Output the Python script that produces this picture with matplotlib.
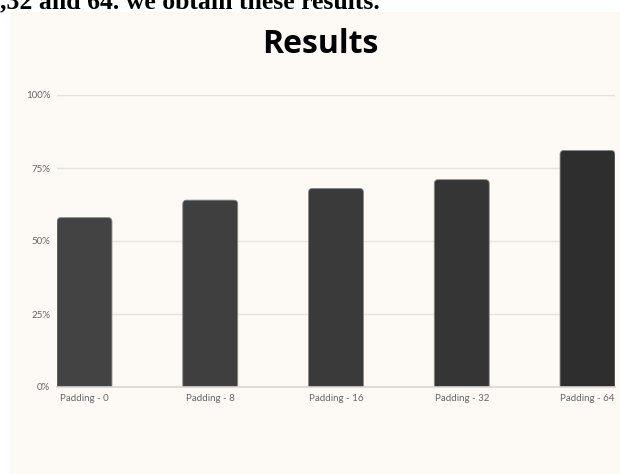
import matplotlib.pyplot as plt
from matplotlib.patches import Rectangle, FancyBboxPatch

categories = ["Padding - 0", "Padding - 8", "Padding - 16", "Padding - 32", "Padding - 64"]
scores = [58, 64, 68, 71, 81]
bar_colors = ["#434343", "#3f3f3f", "#3a3a3a", "#353535", "#2e2e2e"]
ytick_vals = [0, 25, 50, 75, 100]
ytick_labels = ["0%", "25%", "50%", "75%", "100%"]

W, H = 620, 474
fig = plt.figure(figsize=(W / 100, H / 100), dpi=100)
fig.patch.set_facecolor("white")

# cream panel behind the chart
fig.patches.append(Rectangle((10 / W, 0), 1, 1 - 12 / H, transform=fig.transFigure,
                             facecolor="#fdfaf5", edgecolor="none", zorder=-5))

# cut-off sentence at the top (it is cropped in the source too)
fig.text(0, 1 - 8 / H, ",32 and 64. we obtain these results.", family="Liberation Serif",
         weight="bold", fontsize=18.5, ha="left", va="baseline")

fig.text(320 / W, 1 - 53 / H, "Results", family="Open Sans", weight="bold",
         fontsize=23, ha="center", va="baseline")

ax = fig.add_axes([57 / W, 1 - 387 / H, (615 - 57) / W, (387 - 95) / H])
ax.set_facecolor("none")
ax.set_zorder(2)

width = 0.437
x = range(len(categories))
bars = ax.bar(x, scores, width=width, color=bar_colors)

# swap plain bars for ones with rounded tops
r = 0.03
for b, c in zip(bars, bar_colors):
    b.set_visible(False)
    p = FancyBboxPatch((b.get_x() + r, -5), b.get_width() - 2 * r, b.get_height() + 5 - 1.37,
                       boxstyle="round,pad=%f" % r, mutation_aspect=45.7,
                       facecolor=c, edgecolor="#8a8a8a", linewidth=0.6, zorder=3)
    ax.add_patch(p)

ax.set_xlim(-width / 2, len(categories) - 1 + width / 2)
ax.set_ylim(0, 100)
ax.set_yticks(ytick_vals)
ax.set_yticklabels(ytick_labels)
ax.set_xticks(list(x))
ax.set_xticklabels(categories)

for v in ytick_vals[1:]:
    ax.axhline(v, color="#e6e3de", linewidth=1, zorder=1)

for s in ["top", "right", "left"]:
    ax.spines[s].set_visible(False)
ax.spines["bottom"].set_color("#d9d6d1")
ax.spines["bottom"].set_linewidth(1.2)
ax.spines["bottom"].set_zorder(4)

ax.tick_params(axis="both", length=0, colors="#666666")
ax.tick_params(axis="y", pad=5)
ax.tick_params(axis="x", pad=5)
for lbl in ax.get_xticklabels() + ax.get_yticklabels():
    lbl.set_family("Lato")
    lbl.set_fontsize(7)

fig.savefig("out.png", dpi=100)
